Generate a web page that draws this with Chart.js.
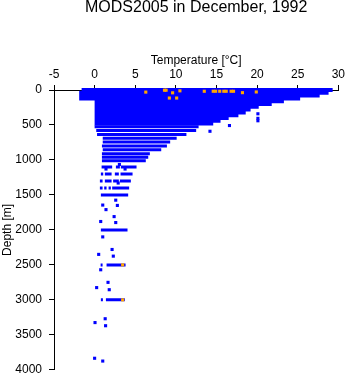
<!DOCTYPE html>
<html>
<head>
<meta charset="utf-8">
<script src="https://cdn.jsdelivr.net/npm/chart.js@4/dist/chart.umd.min.js"></script>
<style>
  html, body { margin: 0; padding: 0; background: #fff; }
</style>
</head>
<body>
<canvas id="chart" width="348" height="384"></canvas>
<script>
const chartTitle = 'MODS2005 in December, 1992';
const tempTicks = [-5, 0, 5, 10, 15, 20, 25, 30];
const depthTicks = [0, 500, 1000, 1500, 2000, 2500, 3000, 3500, 4000];

// dense upper layer: depth levels and their temperature span
const layerDepth = [0, 40, 80, 120, 160, 200, 240, 280, 320, 360, 400, 440, 480];
const layerFrom  = [-1.6, -1.9, -1.9, -1.9, 0.0, 0.0, 0.0, 0.0, 0.0, 0.0, 0.0, 0.0, 0.0];
const layerTo    = [29.3, 28.8, 27.7, 25.3, 23.3, 21.8, 20.2, 19.2, 18.6, 17.7, 16.5, 15.5, 14.6];

// closely packed bands of casts below it (depth, coldest, warmest)
const bandDepth = [525, 580, 635, 690, 745, 800, 855, 910, 960, 1010];
const bandFrom  = [0.0, 0.2, 0.3, 1.0, 1.0, 0.9, 1.0, 0.9, 0.9, 0.9];
const bandTo    = [12.8, 12.5, 11.3, 10.1, 9.3, 8.9, 8.2, 6.8, 6.6, 6.3];

// standard deep levels, runs of temperature
const rowDepth = [1100, 1200, 1300, 1400, 1500, 2000, 2500, 3000];
const rowRuns = [
  [[0.86, 2.16], [2.62, 3.11], [3.23, 5.16]],
  [[0.77, 1.06], [1.26, 2.09], [2.49, 2.98], [3.19, 4.67]],
  [[0.65, 0.98], [1.26, 2.09], [2.28, 2.98], [3.11, 4.46]],
  [[0.65, 0.98], [1.18, 1.47], [1.72, 2.00], [2.16, 4.25]],
  [[0.77, 4.13]],
  [[0.77, 4.05]],
  [[0.74, 0.98], [1.47, 3.81]],
  [[0.77, 1.02], [1.39, 3.72]]
];

// single observations
const obsTemp  = [3.05, 1.4, 3.75, 2.9, 2.6, 1.0, 2.8, 1.4, 2.4, 0.75, 2.6, 1.0, 2.15, 0.5, 2.3, 0.75, 1.65, 0.25, 1.8, 1.3, 0.05, 1.35, 0.0, 1.0, 20.1, 20.1, 20.1, 16.6, 14.2];
const obsDepth = [1065, 1130, 1130, 1330, 1575, 1645, 1650, 1710, 1810, 1880, 1895, 2100, 2280, 2350, 2375, 2570, 2750, 2825, 2855, 3270, 3325, 3370, 3835, 3875, 340, 405, 440, 508, 590];

// flagged observations
const flagTemp  = [6.3, 8.6, 8.8, 9.2, 9.6, 10.1, 10.5, 13.5, 14.6, 14.9, 15.4, 15.9, 16.2, 16.8, 17.1, 18.2, 19.9, 3.45, 3.45];
const flagDepth = [30, 3, 3, 115, 40, 115, 12, 18, 18, 18, 18, 18, 18, 18, 18, 38, 28, 2500, 3000];

const BLUE = '#0000ff';
const ORANGE = '#ffa500';
const FONT = '"Liberation Sans", Arial, Helvetica, sans-serif';

const toPoints = (xs, ys) => xs.map((x, i) => ({x: x, y: ys[i]}));

// horizontal runs, broken apart by null points
const spanPoints = (depths, from, to) => {
  const pts = [];
  depths.forEach((d, i) => {
    pts.push({x: from[i], y: d}, {x: to[i], y: d}, {x: null, y: null});
  });
  return pts;
};

const rowPoints = [];
rowDepth.forEach((d, i) => {
  rowRuns[i].forEach((r) => {
    rowPoints.push({x: r[0], y: d}, {x: r[1], y: d}, {x: null, y: null});
  });
});

Chart.defaults.font.family = FONT;
Chart.defaults.color = '#000';

const tickAxis = (ticks) => (scale) => {
  scale.ticks = ticks.map((v) => ({value: v}));
};

const runSet = (data, width, order) => ({
  type: 'line',
  order: order,
  data: data,
  borderColor: BLUE,
  backgroundColor: BLUE,
  borderWidth: width,
  borderCapStyle: 'butt',
  pointRadius: 0,
  spanGaps: false,
  fill: false,
  tension: 0,
  clip: false
});

// title centred over the plot box rather than the canvas
const plotTitle = {
  id: 'plotTitle',
  afterDraw(chart) {
    const {ctx, chartArea} = chart;
    ctx.save();
    ctx.font = '16px ' + FONT;
    ctx.fillStyle = '#000';
    ctx.textAlign = 'center';
    ctx.textBaseline = 'middle';
    ctx.fillText(chartTitle, (chartArea.left + chartArea.right) / 2, 8);
    ctx.restore();
  }
};

const config = {
  type: 'scatter',
  data: {
    datasets: [
      {
        order: 0,
        data: toPoints(flagTemp, flagDepth),
        backgroundColor: ORANGE,
        borderColor: ORANGE,
        pointStyle: 'rect',
        pointRadius: 2.2,
        pointBorderWidth: 0,
        clip: false
      },
      runSet(spanPoints(layerDepth, layerFrom, layerTo), 4, 1),
      {
        order: 2,
        data: toPoints(obsTemp, obsDepth),
        backgroundColor: BLUE,
        borderColor: BLUE,
        pointStyle: 'rect',
        pointRadius: 2.2,
        pointBorderWidth: 0,
        clip: false
      },
      runSet(rowPoints, 3, 3),
      runSet(spanPoints(bandDepth, bandFrom, bandTo), 3, 4)
    ]
  },
  options: {
    responsive: false,
    animation: false,
    events: [],
    layout: { padding: { left: 0, right: 9, top: 16, bottom: 9 } },
    plugins: {
      legend: { display: false },
      tooltip: { enabled: false },
      title: { display: false }
    },
    scales: {
      x: {
        type: 'linear',
        position: 'top',
        min: -5,
        max: 30,
        afterBuildTicks: tickAxis(tempTicks),
        afterFit: (scale) => { scale.height = 74; },
        border: { color: '#000', width: 1 },
        grid: { drawOnChartArea: false, tickLength: 5, tickColor: '#000', tickWidth: 1 },
        ticks: { font: { size: 12 }, padding: 3, maxRotation: 0, callback: (v) => String(v) },
        title: {
          display: true,
          text: 'Temperature [°C]',
          font: { size: 12 },
          padding: { top: 37, bottom: 0 }
        }
      },
      y: {
        type: 'linear',
        reverse: true,
        min: 0,
        max: 4000,
        afterBuildTicks: tickAxis(depthTicks),
        afterFit: (scale) => { scale.width = 54; },
        border: { color: '#000', width: 1 },
        grid: { drawOnChartArea: false, tickLength: 5, tickColor: '#000', tickWidth: 1 },
        ticks: { font: { size: 12 }, padding: 7, callback: (v) => String(v) },
        title: {
          display: true,
          text: 'Depth [m]',
          font: { size: 12 },
          padding: 0
        }
      }
    }
  },
  plugins: [plotTitle]
};

new Chart(document.getElementById('chart'), config);
</script>
</body>
</html>
